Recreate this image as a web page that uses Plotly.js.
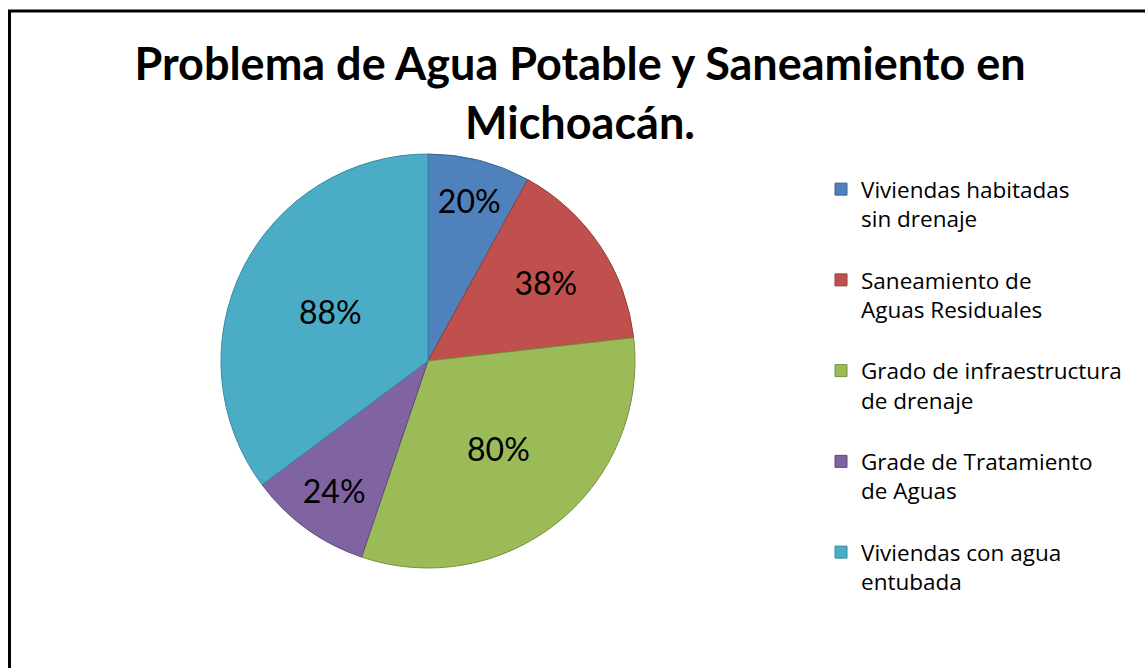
<!DOCTYPE html>
<html>
<head>
<meta charset="utf-8">
<script src="https://cdn.plot.ly/plotly-3.0.1.min.js"></script>
<style>
html,body{margin:0;padding:0;background:#fff;}
#chart{width:1145px;height:668px;}
</style>
</head>
<body>
<div id="chart"></div>
<script>
const categories = [
  "Viviendas habitadas sin drenaje",
  "Saneamiento de Aguas Residuales",
  "Grado de infraestructura de drenaje",
  "Grade de Tratamiento de Aguas",
  "Viviendas con agua entubada"
];
const legendLabels = [
  "Viviendas habitadas<br>sin drenaje",
  "Saneamiento de<br>Aguas Residuales",
  "Grado de infraestructura<br>de drenaje",
  "Grade de Tratamiento<br>de Aguas",
  "Viviendas con agua<br>entubada"
];
const values = [20, 38, 80, 24, 88];
const colors = ["#4F81BD", "#C0504D", "#9BBB59", "#8064A2", "#4BACC6"];
const edgeColors = ["#3A6593", "#943D3B", "#76903F", "#60497C", "#3889A0"];

const W = 1145, H = 668;
const cx = 428, cy = 361, r = 207;

const trace = {
  type: "pie",
  labels: legendLabels.map(l => l + "<br> "),
  values: values,
  customdata: categories,
  sort: false,
  direction: "clockwise",
  rotation: 0,
  marker: {colors: colors, line: {color: edgeColors, width: 1}},
  texttemplate: "%{value}%",
  textposition: "inside",
  insidetextorientation: "horizontal",
  textfont: {family: "Lato, sans-serif", size: 32, color: "#000"},
  hovertemplate: "%{customdata}: %{value}%<extra></extra>",
  domain: {x: [(cx - r) / W, (cx + r) / W], y: [1 - (cy + r) / H, 1 - (cy - r) / H]}
};

const layout = {
  width: W, height: H,
  margin: {l: 0, r: 0, t: 0, b: 0},
  paper_bgcolor: "#fff",
  title: {
    text: "<b>Problema de Agua Potable y Saneamiento en<br>Michoacán.</b>",
    font: {family: "Lato, sans-serif", size: 45, color: "#000"},
    x: 580 / W, xanchor: "center",
    y: 1 - 80 / H, yanchor: "top"
  },
  showlegend: true,
  legend: {
    x: 821 / W, xanchor: "left",
    y: 1 - 168 / H, yanchor: "top",
    valign: "top",
    font: {family: "'Open Sans', sans-serif", size: 22.5, color: "#000"},
    bgcolor: "rgba(0,0,0,0)",
    tracegroupgap: 0
  },
  shapes: [
    {type: "line", xref: "paper", yref: "paper", x0: 9.5 / W, x1: 9.5 / W, y0: 1 - 10 / H, y1: -0.05, line: {color: "#000", width: 3}},
    {type: "line", xref: "paper", yref: "paper", x0: 8 / W, x1: 1.05, y0: 1 - 11 / H, y1: 1 - 11 / H, line: {color: "#000", width: 3}}
  ]
};

Plotly.newPlot("chart", [trace], layout, {displayModeBar: false, staticPlot: true});
</script>
</body>
</html>
